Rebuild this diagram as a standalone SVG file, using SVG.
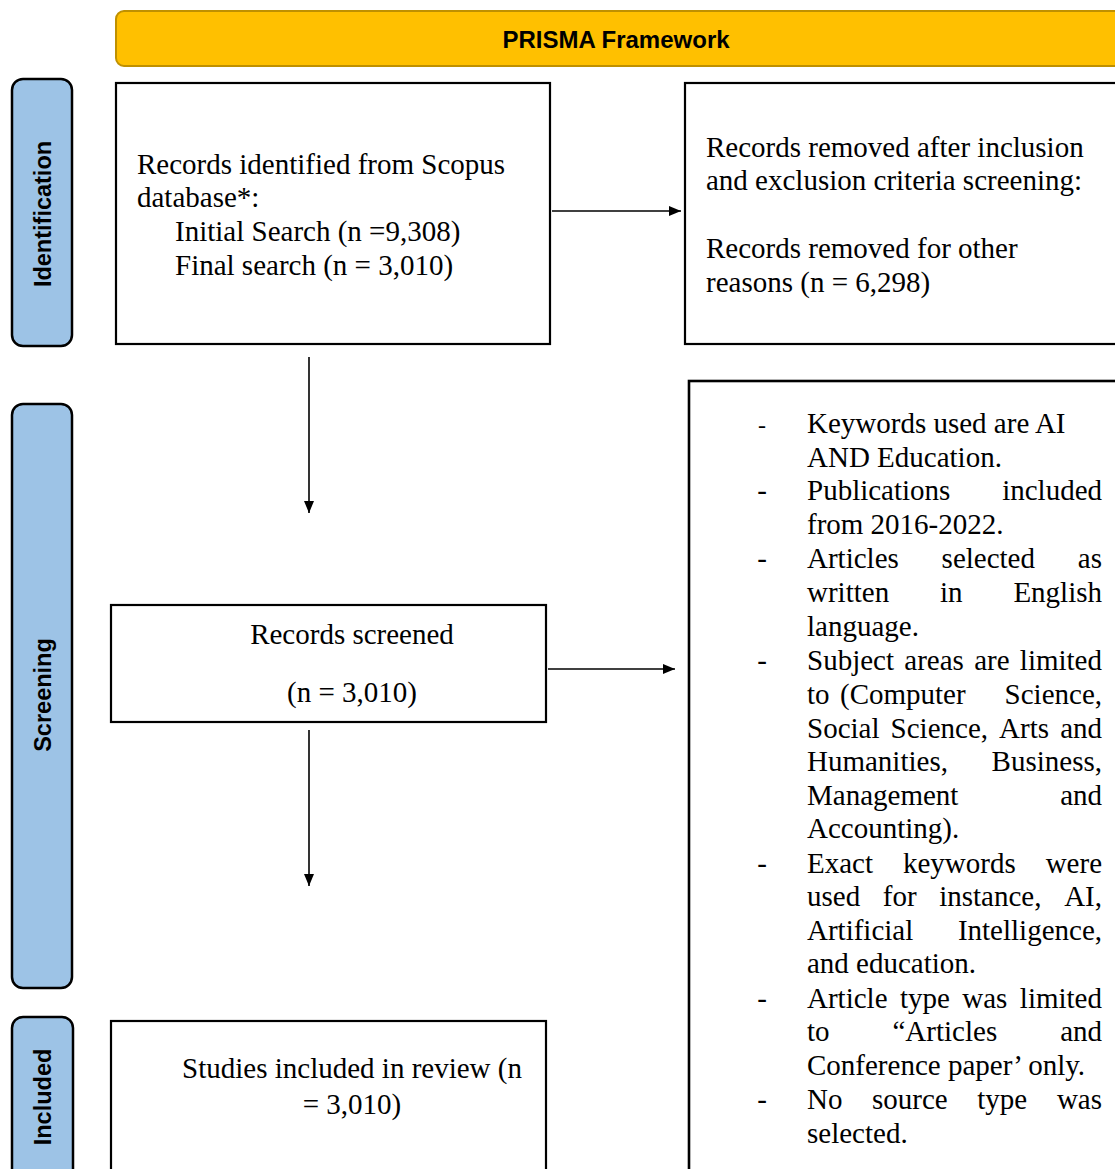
<svg xmlns="http://www.w3.org/2000/svg" width="1115" height="1169" viewBox="0 0 1115 1169">
<style>
.box{fill:#fff;stroke:#000;stroke-width:2.2}
.side{fill:#9DC3E6;stroke:#000;stroke-width:2.5}
.side-t{font-family:"Liberation Sans",Arial,sans-serif;font-weight:bold;font-size:23.5px;fill:#000;text-anchor:middle}
.t{font-family:"Liberation Serif","Times New Roman",serif;font-size:29px;fill:#000}
.c{text-anchor:middle}
.e{text-anchor:end}
.conn{stroke:#000;stroke-width:1.6;fill:none}
</style>
<defs>
<marker id="ah" markerWidth="12" markerHeight="10" refX="12" refY="5" orient="auto" markerUnits="userSpaceOnUse">
<path d="M0,0 L12,5 L0,10 Z" fill="#000"/>
</marker>
</defs>
<rect width="1115" height="1169" fill="#fff"/>

<g id="header">
<rect x="116" y="11" width="1010" height="55" rx="8" fill="#FFC000" stroke="#BF9000" stroke-width="2"/>
<text x="616" y="48" class="side-t" style="font-size:24px">PRISMA Framework</text>
</g>

<g id="stage-identification">
<rect x="12" y="79" width="60" height="267" rx="11" class="side"/>
<text class="side-t" transform="translate(51,214) rotate(-90)">Identification</text>
</g>
<g id="stage-screening">
<rect x="12" y="404" width="60" height="584" rx="11" class="side"/>
<text class="side-t" transform="translate(51,695) rotate(-90)">Screening</text>
</g>
<g id="stage-included">
<rect x="12" y="1017" width="61" height="170" rx="11" class="side"/>
<text class="side-t" transform="translate(51,1097) rotate(-90)">Included</text>
</g>

<g id="records-identified">
<rect x="116" y="83" width="434" height="261" class="box"/>
<text class="t" x="137" y="174">Records identified from Scopus</text>
<text class="t" x="137" y="207">database*:</text>
<text class="t" x="175" y="241">Initial Search (n =9,308)</text>
<text class="t" x="175" y="275">Final search (n = 3,010)</text>
</g>

<g id="records-removed">
<rect x="685" y="83" width="440" height="261" class="box"/>
<text class="t" x="706" y="157">Records removed after inclusion</text>
<text class="t" x="706" y="190">and exclusion criteria screening:</text>
<text class="t" x="706" y="258">Records removed for other</text>
<text class="t" x="706" y="292">reasons (n = 6,298)</text>
</g>

<g id="records-screened">
<rect x="111" y="605" width="435" height="117" class="box"/>
<text class="t c" x="352" y="644">Records screened</text>
<text class="t c" x="352" y="702">(n = 3,010)</text>
</g>

<g id="criteria">
<rect x="689" y="381" width="440" height="800" class="box" style="stroke-width:2.6"/>
<g class="t">
<text x="762" y="433" class="c" style="font-size:24px">-</text>
<text x="762" y="500" class="c">-</text>
<text x="762" y="568" class="c">-</text>
<text x="762" y="670" class="c">-</text>
<text x="762" y="873" class="c">-</text>
<text x="762" y="1008" class="c">-</text>
<text x="762" y="1109" class="c">-</text>

<text x="807" y="433">Keywords used are AI</text>
<text x="807" y="467">AND Education.</text>
<text x="807" y="500">Publications</text>
<text x="1102" y="500" class="e">included</text>
<text x="807" y="534">from 2016-2022.</text>
<text y="568"><tspan x="807">Articles</tspan><tspan x="941.6">selected</tspan></text>
<text x="1102" y="568" class="e">as</text>
<text y="602"><tspan x="807">written</tspan><tspan x="940">in</tspan></text>
<text x="1102" y="602" class="e">English</text>
<text x="807" y="636">language.</text>
<text y="670"><tspan x="807">Subject</tspan><tspan x="904.3">areas</tspan><tspan x="974.2">are</tspan></text>
<text x="1102" y="670" class="e">limited</text>
<text y="704"><tspan x="807">to</tspan><tspan x="840">(Computer</tspan></text>
<text x="1102" y="704" class="e">Science,</text>
<text y="738"><tspan x="807">Social</tspan><tspan x="890.6">Science,</tspan><tspan x="999.1">Arts</tspan></text>
<text x="1102" y="738" class="e">and</text>
<text x="807" y="771">Humanities,</text>
<text x="1102" y="771" class="e">Business,</text>
<text x="807" y="805">Management</text>
<text x="1102" y="805" class="e">and</text>
<text x="807" y="838">Accounting).</text>
<text y="873"><tspan x="807">Exact</tspan><tspan x="903">keywords</tspan></text>
<text x="1102" y="873" class="e">were</text>
<text y="906"><tspan x="807">used</tspan><tspan x="882.8">for</tspan><tspan x="939.2">instance,</tspan></text>
<text x="1102" y="906" class="e">AI,</text>
<text x="807" y="940">Artificial</text>
<text x="1102" y="940" class="e">Intelligence,</text>
<text x="807" y="973">and education.</text>
<text y="1008"><tspan x="807">Article</tspan><tspan x="899.9">type</tspan><tspan x="962.3">was</tspan></text>
<text x="1102" y="1008" class="e">limited</text>
<text y="1041"><tspan x="807">to</tspan><tspan x="892.5">“Articles</tspan></text>
<text x="1102" y="1041" class="e">and</text>
<text x="807" y="1075">Conference paper’ only.</text>
<text y="1109"><tspan x="807">No</tspan><tspan x="872">source</tspan><tspan x="977.3">type</tspan></text>
<text x="1102" y="1109" class="e">was</text>
<text x="807" y="1143">selected.</text>
</g>
</g>

<g id="studies-included">
<rect x="111" y="1021" width="435" height="170" class="box"/>
<text class="t c" x="352" y="1078">Studies included in review (n</text>
<text class="t c" x="352" y="1114">= 3,010)</text>
</g>

<g id="connectors">
<line class="conn" x1="552" y1="211" x2="681" y2="211" marker-end="url(#ah)"/>
<line class="conn" x1="548" y1="669" x2="675" y2="669" marker-end="url(#ah)"/>
<line class="conn" x1="309" y1="357" x2="309" y2="513" marker-end="url(#ah)"/>
<line class="conn" x1="309" y1="730" x2="309" y2="886" marker-end="url(#ah)"/>
</g>
</svg>
